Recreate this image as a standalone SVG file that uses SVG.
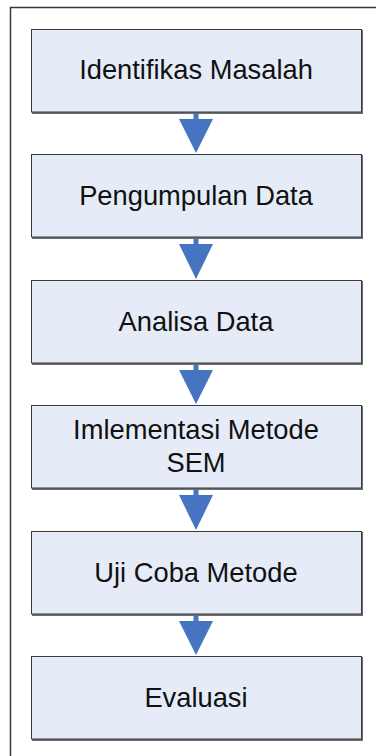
<svg xmlns="http://www.w3.org/2000/svg" width="376" height="756" viewBox="0 0 376 756">
<defs>
<style>
.shadow{fill:#6a6f74}
.box{fill:#e6ecf7;stroke:#3a3a3a;stroke-width:1}
.lbl{font-family:"Liberation Sans",Arial,sans-serif;font-size:27.3px;fill:#111;text-anchor:middle}
.stem{stroke:#4674c1;stroke-width:5;stroke-linecap:round}
.head{fill:#4674c1}
</style>
</defs>
<rect width="376" height="756" fill="#ffffff"/>
<g id="frame" fill="none" stroke="#3a3a3a" stroke-width="1.5">
<polyline points="10.5,760 10.5,7.5 380,7.5"/>
</g>
<g id="connectors">
<line class="stem" x1="196" y1="111" x2="196" y2="122"/><polygon class="head" points="179,119 213,119 196,153"/>
<line class="stem" x1="196" y1="236" x2="196" y2="247"/><polygon class="head" points="179,244 213,244 196,279"/>
<line class="stem" x1="196" y1="362" x2="196" y2="373"/><polygon class="head" points="179,370 213,370 196,404"/>
<line class="stem" x1="196" y1="487" x2="196" y2="498"/><polygon class="head" points="179,495 213,495 196,530"/>
<line class="stem" x1="196" y1="613" x2="196" y2="624"/><polygon class="head" points="179,621 213,621 196,655"/>
</g>
<g id="n1"><rect class="shadow" x="32" y="30" width="331" height="84"/><rect class="box" x="31.5" y="29.5" width="330" height="82.5"/><text class="lbl" x="196" y="79">Identifikas Masalah</text></g>
<g id="n2"><rect class="shadow" x="32" y="155" width="331" height="84"/><rect class="box" x="31.5" y="154.5" width="330" height="82.5"/><text class="lbl" x="196" y="205">Pengumpulan Data</text></g>
<g id="n3"><rect class="shadow" x="32" y="281" width="331" height="84"/><rect class="box" x="31.5" y="280.5" width="330" height="82.5"/><text class="lbl" x="196" y="331">Analisa Data</text></g>
<g id="n4"><rect class="shadow" x="32" y="406" width="331" height="84"/><rect class="box" x="31.5" y="405.5" width="330" height="82.5"/><text class="lbl" x="196" y="439">Imlementasi Metode</text><text class="lbl" x="196" y="472">SEM</text></g>
<g id="n5"><rect class="shadow" x="32" y="532" width="331" height="84"/><rect class="box" x="31.5" y="531.5" width="330" height="82.5"/><text class="lbl" x="196" y="582">Uji Coba Metode</text></g>
<g id="n6"><rect class="shadow" x="32" y="657" width="331" height="84"/><rect class="box" x="31.5" y="656.5" width="330" height="82.5"/><text class="lbl" x="196" y="707">Evaluasi</text></g>
</svg>
